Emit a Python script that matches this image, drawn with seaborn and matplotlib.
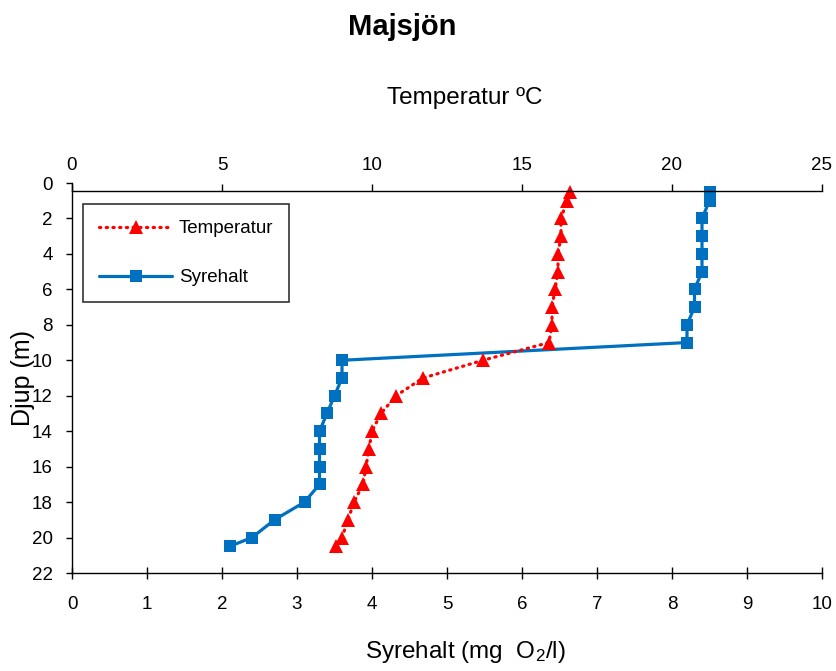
import matplotlib
matplotlib.use("Agg")
import matplotlib.pyplot as plt
import seaborn as sns
import pandas as pd

# Profile measurements, Majsjön
depth = [0.5, 1, 2, 3, 4, 5, 6, 7, 8, 9, 10, 11, 12, 13, 14, 15, 16, 17, 18, 19, 20, 20.5]
temperature = [16.6, 16.5, 16.3, 16.3, 16.2, 16.2, 16.1, 16.0, 16.0, 15.9, 13.7, 11.7,
               10.8, 10.3, 10.0, 9.9, 9.8, 9.7, 9.4, 9.2, 9.0, 8.8]
oxygen = [8.5, 8.5, 8.4, 8.4, 8.4, 8.4, 8.3, 8.3, 8.2, 8.2, 3.6, 3.6,
          3.5, 3.4, 3.3, 3.3, 3.3, 3.3, 3.1, 2.7, 2.4, 2.1]

temp_ticks = [0, 5, 10, 15, 20, 25]
oxy_ticks = list(range(0, 11))
depth_ticks = list(range(0, 23, 2))

sns.set_theme(style="white")
plt.rcParams["font.family"] = ["Liberation Sans", "DejaVu Sans"]
plt.rcParams["mathtext.fontset"] = "custom"
plt.rcParams["mathtext.rm"] = "Liberation Sans"
plt.rcParams["mathtext.default"] = "regular"
plt.rcParams["text.color"] = "black"
plt.rcParams["axes.labelcolor"] = "black"

df = pd.DataFrame({"depth": depth, "temp": temperature, "oxy": oxygen})

RED = "#FF0000"
BLUE = "#0070C0"

fig = plt.figure(figsize=(8.36, 6.71), dpi=100)
ax = fig.add_axes([72 / 836, 1 - 573 / 671, 750 / 836, (573 - 183) / 671])
ax_t = ax.twiny()

# oxygen on the bottom axis
sns.lineplot(data=df, x="oxy", y="depth", sort=False, estimator=None, ax=ax,
             color=BLUE, lw=2.3, marker="s", markersize=8, markeredgewidth=0,
             label="Syrehalt", legend=False)
# temperature on the top axis
sns.lineplot(data=df, x="temp", y="depth", sort=False, estimator=None, ax=ax_t,
             color=RED, lw=2.3, linestyle=(0, (0.4, 1.7)), marker="^", markersize=10,
             markeredgewidth=0, label="Temperatur", legend=False)
for ln in ax_t.lines:
    ln.set_dash_capstyle("round")

ax.set_xlim(0, 10)
ax.set_ylim(22, 0)
ax_t.set_xlim(0, 25)

ax.set_xticks(oxy_ticks)
ax.set_yticks(depth_ticks)
ax_t.set_xticks(temp_ticks)

for a in (ax, ax_t):
    a.set_xlabel("")
    a.set_ylabel("")
    for s in a.spines.values():
        s.set_visible(False)

ax.spines["left"].set_visible(True)
ax.spines["bottom"].set_visible(True)
ax_t.spines["top"].set_visible(True)
ax_t.spines["top"].set_position(("axes", 1 - 0.45 / 22))
for s in (ax.spines["left"], ax.spines["bottom"], ax_t.spines["top"]):
    s.set_color("black")
    s.set_linewidth(1.0)

ax.tick_params(axis="x", which="major", direction="inout", length=9, width=1,
               colors="black", labelsize=13.5, pad=12, bottom=True)
ax.tick_params(axis="y", which="major", direction="out", length=4, width=1,
               colors="black", labelsize=13.5, pad=10, left=True)
ax_t.tick_params(axis="x", which="major", direction="out", length=5, width=1,
                 colors="black", labelsize=13.5, top=True, pad=7)
ax.grid(False)
ax_t.grid(False)

# legend combining both series
h1, l1 = ax_t.get_legend_handles_labels()
h2, l2 = ax.get_legend_handles_labels()
leg = ax_t.legend(h1 + h2, l1 + l2, loc="upper left",
                  bbox_to_anchor=((83 - 72) / 750, 1 - (204 - 183) / 390),
                  frameon=True, fancybox=False, edgecolor="black", fontsize=13.5,
                  handlelength=3.9, labelspacing=1.7, borderpad=0.85,
                  handletextpad=0.35, borderaxespad=0)
leg.get_frame().set_linewidth(1.2)

ax.set_ylabel("Djup (m)", fontsize=18)
ax.yaxis.set_label_coords((35 - 72) / 750, 1 - (378 - 183) / 390)

fig.text(402 / 836, 1 - 27 / 671, "Majsjön", ha="center", va="center",
         fontsize=21, fontweight="bold")
fig.text(465 / 836, 1 - 98 / 671, "Temperatur ºC", ha="center", va="center",
         fontsize=17.5)
fig.text(465 / 836, 1 - 652 / 671, "Syrehalt (mg  O$_2$/l)", ha="center", va="center",
         fontsize=17.5)

fig.savefig("out.png", dpi=100)
